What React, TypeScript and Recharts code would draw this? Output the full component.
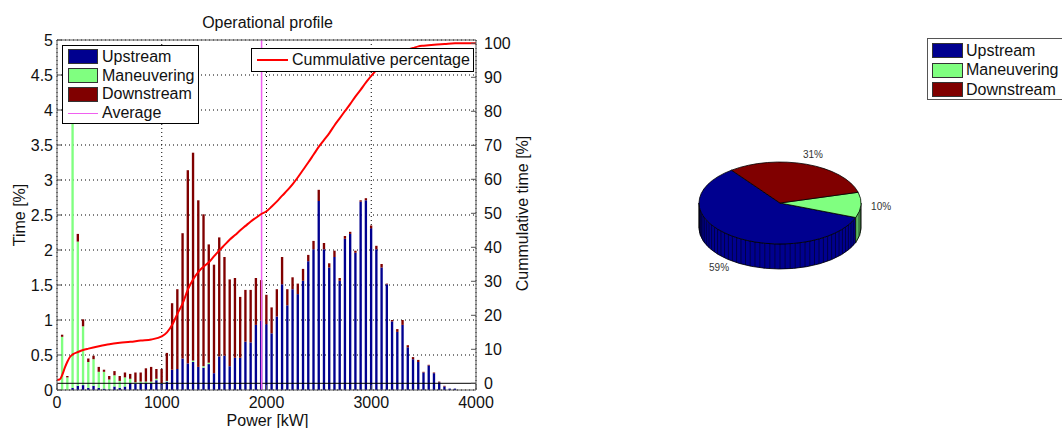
import {
  ComposedChart,
  Bar,
  Line,
  XAxis,
  YAxis,
  CartesianGrid,
  ReferenceLine,
  Label,
  PieChart,
  Pie,
  Cell,
} from 'recharts';

// power bins (kW, bin centres)
const powerBins = [
  50, 100, 150, 200, 250, 300, 350, 400, 450, 500,
  550, 600, 650, 700, 750, 800, 850, 900, 950, 1000,
  1050, 1100, 1150, 1200, 1250, 1300, 1350, 1400, 1450, 1500,
  1550, 1600, 1650, 1700, 1750, 1800, 1850, 1900, 1950, 2000,
  2050, 2100, 2150, 2200, 2250, 2300, 2350, 2400, 2450, 2500,
  2550, 2600, 2650, 2700, 2750, 2800, 2850, 2900, 2950, 3000,
  3050, 3100, 3150, 3200, 3250, 3300, 3350, 3400, 3450, 3500,
  3550, 3600, 3650, 3700, 3750, 3800,
];

// time share per bin [%]
const upstream = [
  0, 0, 0.03, 0.06, 0.07, 0.03, 0.06, 0.03, 0.02, 0.01,
  0.05, 0.03, 0.05, 0.1, 0.09, 0.1, 0.1, 0.1, 0.14, 0.09,
  0.12, 0.29, 0.3, 0.45, 0.38, 0.4, 0.33, 0.32, 0.37, 0.24,
  0.48, 0.49, 0.34, 0.46, 0.46, 0.69, 0.68, 0.93, 0.99, 0.94,
  0.81, 1.05, 1.51, 1.21, 1.44, 1.37, 1.56, 1.84, 2.01, 2.7,
  2.01, 1.75, 1.9, 1.56, 2.16, 2.23, 1.96, 2.69, 2.71, 2.31,
  2.01, 1.75, 1.51, 0.98, 0.83, 0.93, 0.61, 0.44, 0.4, 0.25,
  0.35, 0.24, 0.11, 0.05, 0.02, 0.02,
];
const maneuvering = [
  0.76, 0.18, 4.3, 2.06, 0.84, 0.37, 0.38, 0.23, 0.24, 0.14,
  0.16, 0.1, 0.13, 0.06, 0.02, 0.02, 0.02, 0.02, 0.02, 0.01,
  0.01, 0, 0, 0, 0, 0.02, 0, 0.02, 0.02, 0,
  0, 0, 0, 0, 0, 0, 0, 0, 0, 0,
  0, 0, 0, 0, 0, 0, 0, 0, 0, 0,
  0, 0, 0, 0, 0, 0, 0, 0, 0, 0,
  0, 0, 0, 0, 0, 0, 0, 0, 0, 0,
  0, 0, 0, 0, 0, 0,
];
const downstream = [
  0.03, 0.02, 0, 0.11, 0.1, 0.05, 0.05, 0.07, 0.03, 0.05,
  0.06, 0.07, 0.07, 0.07, 0.14, 0.13, 0.19, 0.21, 0.14, 0.2,
  0.4, 0.95, 1.14, 1.79, 2.76, 2.97, 2.38, 2.17, 1.69, 1.55,
  1.7, 1.41, 1.24, 1.14, 0.87, 0.74, 0.75, 0.67, 0.58, 0.42,
  0.37, 0.39, 0.39, 0.23, 0.17, 0.15, 0.17, 0.09, 0.12, 0.16,
  0.09, 0.06, 0.09, 0.04, 0.04, 0.03, 0.03, 0.02, 0.03, 0.04,
  0.05, 0.05, 0.01, 0.02, 0.04, 0.07, 0.03, 0.03, 0.03, 0.01,
  0.01, 0.01, 0.01, 0.01, 0, 0,
];

const averagePower = 1953;

// cumulative curve
const cumulativePower = [
  0, 25, 50, 75, 100, 125, 150, 200, 250, 300,
  400, 500, 600, 700, 800, 900, 1000, 1050, 1100, 1150,
  1200, 1250, 1300, 1350, 1400, 1450, 1500, 1550, 1600, 1650,
  1700, 1750, 1800, 1850, 1900, 1950, 2000, 2050, 2100, 2150,
  2200, 2250, 2300, 2350, 2400, 2450, 2500, 2550, 2600, 2650,
  2700, 2750, 2800, 2850, 2900, 2950, 3000, 3050, 3100, 3150,
  3200, 3300, 3400, 3450, 3500, 3600, 3700, 3800, 3900, 4000,
];
const cumulativePercent = [
  1.0, 1.1, 2.5, 4.6, 6.4, 7.8, 8.5, 9.2, 9.8, 10.2,
  10.9, 11.5, 11.9, 12.2, 12.6, 12.9, 13.8, 15.0, 17.2, 20.5,
  23.5, 27.6, 30.6, 32.8, 34.3, 35.6, 37.4, 39.1, 40.7, 42.3,
  43.6, 45.0, 46.3, 47.6, 48.7, 49.8, 50.6, 52.0, 53.5, 55.2,
  56.8, 58.6, 60.6, 62.8, 65.0, 67.3, 69.6, 71.6, 73.6, 75.9,
  78.0, 80.1, 82.2, 84.4, 86.4, 88.5, 90.4, 92.2, 93.8, 95.2,
  96.3, 97.7, 98.6, 99.1, 99.3, 99.6, 99.8, 100, 100, 100,
];

const modeNames = ['Upstream', 'Maneuvering', 'Downstream'];
const modeShares = [59, 10, 31];

const xTicks = [0, 1000, 2000, 3000, 4000];
const timeTicks = [0, 0.5, 1, 1.5, 2, 2.5, 3, 3.5, 4, 4.5, 5];
const cumulativeTicks = [0, 10, 20, 30, 40, 50, 60, 70, 80, 90, 100];

const COLORS = ['#00008F', '#80FF80', '#800000'];
const AVG = '#f060f0';
const AXIS = '#555';
const FONT = '"Liberation Sans", Arial, Helvetica, sans-serif';

const barRows = powerBins.map((kw, i) => ({
  kw,
  upstream: upstream[i],
  maneuvering: maneuvering[i],
  downstream: downstream[i],
}));
const cumulativeRows = cumulativePower.map((kw, i) => ({ kw, pct: cumulativePercent[i] }));
const pieRows = modeNames.map((name, i) => ({ name, value: modeShares[i], color: COLORS[i] }));

const tickStyle = { fill: '#111', fontSize: 16 };

// pie squashed into an ellipse with a side wall, like pie3
const TILT = 0.506;
const DEPTH = 25;

function Slice3D(props: any) {
  const { cx, cy, outerRadius, startAngle, endAngle, fill } = props;
  const rx = outerRadius;
  const ry = outerRadius * TILT;
  const a0 = Math.min(startAngle, endAngle);
  const a1 = Math.max(startAngle, endAngle);
  const px = (a: number) => cx + rx * Math.cos((a * Math.PI) / 180);
  const py = (a: number, dy = 0) => cy - ry * Math.sin((a * Math.PI) / 180) + dy;
  const pt = (a: number, dy = 0) => `${px(a)},${py(a, dy)}`;
  const large = a1 - a0 > 180 ? 1 : 0;
  const top = `M${cx},${cy} L${pt(a0)} A${rx},${ry} 0 ${large} 0 ${pt(a1)} Z`;

  const walls: string[] = [];
  const ribs: number[] = [];
  for (let k = -1; k <= 2; k++) {
    const lo = Math.max(a0, 180 + 360 * k);
    const hi = Math.min(a1, 360 + 360 * k);
    if (hi <= lo) continue;
    walls.push(
      `M${pt(lo)} A${rx},${ry} 0 0 0 ${pt(hi)} L${pt(hi, DEPTH)} A${rx},${ry} 0 0 1 ${pt(lo, DEPTH)} Z`
    );
    for (let a = Math.ceil(lo / 3.6) * 3.6; a <= hi; a += 3.6) ribs.push(a);
  }

  return (
    <g>
      {walls.map((d, i) => (
        <path key={i} d={d} fill={fill} stroke="#000" strokeWidth={0.8} />
      ))}
      {ribs.map((a, i) => (
        <line key={'r' + i} x1={px(a)} y1={py(a)} x2={px(a)} y2={py(a, DEPTH)} stroke="#000" strokeWidth={0.5} />
      ))}
      <path d={top} fill={fill} stroke="#000" strokeWidth={0.8} />
    </g>
  );
}

const renderPieLabel = (p: any) => {
  const r = (p.midAngle * Math.PI) / 180;
  const s = Math.sin(r);
  const x = p.cx + p.outerRadius * 1.25 * Math.cos(r);
  const y = p.cy - p.outerRadius * TILT * 1.25 * s + (s < 0 ? -s * DEPTH * 1.2 : 0);
  return (
    <text x={x} y={y} textAnchor="middle" dominantBaseline="central" fontSize={10} fill="#333">
      {`${Math.round(p.percent * 100)}%`}
    </text>
  );
};

const legendBox = {
  position: 'absolute' as const,
  background: '#fff',
  boxSizing: 'border-box' as const,
  fontSize: 16,
  lineHeight: 1,
  color: '#111',
};
const row = { display: 'flex', alignItems: 'center' };
const swatch = (c: string, w = 30) => ({
  width: w,
  height: 15,
  background: c,
  border: '1px solid #333',
  boxSizing: 'border-box' as const,
  marginRight: 4,
});

export default function App() {
  return (
    <div
      style={{
        position: 'absolute',
        left: 0,
        top: 0,
        width: 1062,
        height: 428,
        overflow: 'hidden',
        background: '#fff',
        fontFamily: FONT,
      }}
    >
      <div style={{ position: 'absolute', left: 0, top: 0 }}>
        <ComposedChart width={560} height={428} data={barRows} margin={{ top: 39, right: 0, bottom: 0, left: 0 }}>
          <CartesianGrid yAxisId="left" stroke="#000" strokeDasharray="1 3" />
          <XAxis
            dataKey="kw"
            type="number"
            domain={[0, 4000]}
            ticks={xTicks}
            interval={0}
            height={38}
            tick={tickStyle}
            tickSize={-5}
            tickMargin={12}
            stroke={AXIS}
            allowDataOverflow
          >
            <Label
              content={(p: any) => (
                <text x={p.viewBox.x + p.viewBox.width / 2 + 1} y={p.viewBox.y + 35.5} textAnchor="middle" fontSize={16} fill="#111">
                  Power [kW]
                </text>
              )}
            />
          </XAxis>
          <XAxis
            xAxisId="top"
            orientation="top"
            dataKey="kw"
            type="number"
            domain={[0, 4000]}
            ticks={xTicks}
            interval={0}
            height={1}
            tick={false}
            tickSize={-5}
            stroke={AXIS}
            allowDataOverflow
          >
            <Label
              content={(p: any) => (
                <text x={p.viewBox.x + p.viewBox.width / 2 + 1} y={28} textAnchor="middle" fontSize={16} fill="#111">
                  Operational profile
                </text>
              )}
            />
          </XAxis>
          <YAxis
            yAxisId="left"
            domain={[0, 5]}
            ticks={timeTicks}
            interval={0}
            width={57}
            tick={tickStyle}
            tickSize={-5}
            tickMargin={9}
            stroke={AXIS}
            allowDataOverflow
          >
            <Label
              content={(p: any) => {
                const x = p.viewBox.x + 24.5;
                const y = p.viewBox.y + p.viewBox.height / 2;
                return (
                  <text x={x} y={y} transform={`rotate(-90 ${x} ${y})`} textAnchor="middle" fontSize={16} fill="#111">
                    Time [%]
                  </text>
                );
              }}
            />
          </YAxis>
          <YAxis
            yAxisId="right"
            orientation="right"
            domain={[-1.97, 100.97]}
            ticks={cumulativeTicks}
            interval={0}
            width={84}
            tick={tickStyle}
            tickSize={-5}
            tickMargin={13}
            stroke={AXIS}
            allowDataOverflow
          >
            <Label
              content={(p: any) => {
                const x = p.viewBox.x + 52;
                const y = p.viewBox.y + p.viewBox.height / 2 - 1.5;
                return (
                  <text x={x} y={y} transform={`rotate(-90 ${x} ${y})`} textAnchor="middle" fontSize={16} fill="#111">
                    Cummulative time [%]
                  </text>
                );
              }}
            />
          </YAxis>
          <Bar yAxisId="left" dataKey="upstream" name="Upstream" stackId="t" fill={COLORS[0]} barSize={4} isAnimationActive={false} />
          <Bar yAxisId="left" dataKey="maneuvering" name="Maneuvering" stackId="t" fill={COLORS[1]} barSize={4} isAnimationActive={false} />
          <Bar yAxisId="left" dataKey="downstream" name="Downstream" stackId="t" fill={COLORS[2]} barSize={4} isAnimationActive={false} />
          <ReferenceLine yAxisId="right" y={0} stroke="#000" strokeWidth={1} />
          <ReferenceLine yAxisId="left" x={averagePower} stroke={AVG} strokeWidth={1.5} />
          <Line
            yAxisId="right"
            data={cumulativeRows}
            dataKey="pct"
            name="Cummulative percentage"
            type="monotone"
            stroke="#ff0000"
            strokeWidth={2}
            dot={false}
            isAnimationActive={false}
          />
        </ComposedChart>
      </div>

      <div style={{ position: 'absolute', left: 560, top: 0 }}>
        <PieChart width={502} height={428} margin={{ top: 0, right: 0, bottom: 0, left: 0 }}>
          <Pie
            data={pieRows}
            dataKey="value"
            nameKey="name"
            cx={220}
            cy={203}
            outerRadius={81}
            startAngle={126.8}
            endAngle={486.8}
            shape={Slice3D}
            activeShape={Slice3D}
            inactiveShape={Slice3D}
            label={renderPieLabel}
            labelLine={false}
            isAnimationActive={false}
          >
            {pieRows.map((d) => (
              <Cell key={d.name} fill={d.color} />
            ))}
          </Pie>
        </PieChart>
      </div>

      {/* bar chart legend */}
      <div style={{ ...legendBox, left: 62, top: 45, width: 137, height: 79, border: '1px solid #000', paddingTop: 1.5, paddingLeft: 5 }}>
        {modeNames.map((n, i) => (
          <div key={n} style={{ ...row, height: 18.8 }}>
            <div style={swatch(COLORS[i])} />
            <span>{n}</span>
          </div>
        ))}
        <div style={{ ...row, height: 18.8 }}>
          <div style={{ width: 30, height: 1.5, background: AVG, marginRight: 4 }} />
          <span>Average</span>
        </div>
      </div>
      <div style={{ ...legendBox, left: 251, top: 48, width: 223, height: 24, border: '1px solid #000', paddingLeft: 5 }}>
        <div style={{ ...row, height: 22 }}>
          <div style={{ width: 31, height: 2.5, background: '#ff0000', marginRight: 4 }} />
          <span>Cummulative percentage</span>
        </div>
      </div>

      {/* pie legend */}
      <div style={{ ...legendBox, left: 927, top: 38, width: 160, height: 62, border: '1px solid #555', paddingTop: 2.2, paddingLeft: 4 }}>
        {modeNames.map((n, i) => (
          <div key={n} style={{ ...row, height: 19.5 }}>
            <div style={{ ...swatch(COLORS[i], 31), marginRight: 3 }} />
            <span>{n}</span>
          </div>
        ))}
      </div>
    </div>
  );
}
